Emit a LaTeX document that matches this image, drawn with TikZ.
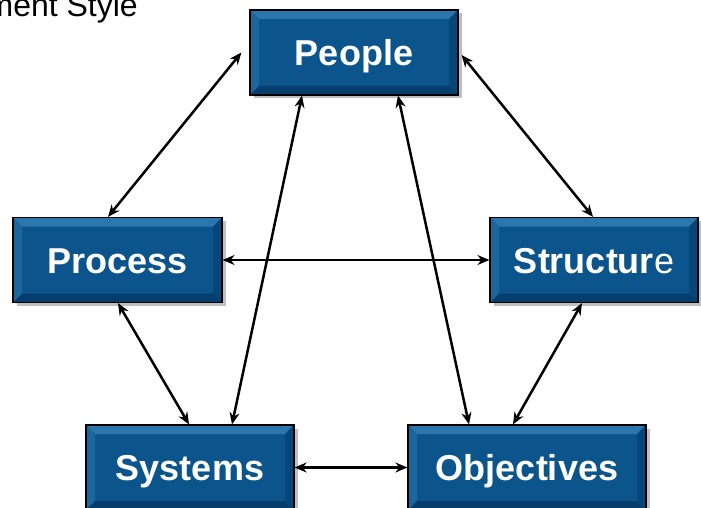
\documentclass[tikz,border=0pt]{standalone}
\usepackage{fontspec}
\setmainfont{Liberation Sans}
\usetikzlibrary{positioning,shadows,arrows.meta}
\tikzstyle{canvas} = [x = 1pt, y = -1pt]
\definecolor{boxBlue}{RGB}{12,84,140}
\definecolor{bevelTop}{RGB}{44,118,174}
\definecolor{bevelLeft}{RGB}{28,102,158}
\definecolor{bevelBottom}{RGB}{5,62,108}
\definecolor{bevelRight}{RGB}{8,70,122}
\newcommand{\bevelWidth}{9pt}
\newcommand{\bevelFaces}{
  \fill [bevelTop] (path picture bounding box.north west) -- (path picture bounding box.north east)
    -- ([xshift=-\bevelWidth, yshift=-\bevelWidth] path picture bounding box.north east)
    -- ([xshift=\bevelWidth, yshift=-\bevelWidth] path picture bounding box.north west) -- cycle;
  \fill [bevelLeft] (path picture bounding box.north west) -- (path picture bounding box.south west)
    -- ([xshift=\bevelWidth, yshift=\bevelWidth] path picture bounding box.south west)
    -- ([xshift=\bevelWidth, yshift=-\bevelWidth] path picture bounding box.north west) -- cycle;
  \fill [bevelBottom] (path picture bounding box.south west) -- (path picture bounding box.south east)
    -- ([xshift=-\bevelWidth, yshift=\bevelWidth] path picture bounding box.south east)
    -- ([xshift=\bevelWidth, yshift=\bevelWidth] path picture bounding box.south west) -- cycle;
  \fill [bevelRight] (path picture bounding box.north east) -- (path picture bounding box.south east)
    -- ([xshift=-\bevelWidth, yshift=\bevelWidth] path picture bounding box.south east)
    -- ([xshift=-\bevelWidth, yshift=-\bevelWidth] path picture bounding box.north east) -- cycle;
}
\tikzstyle{bevelBox} = [draw=black, line width=1.2pt, fill=boxBlue, text=white, inner sep=0pt,
  font=\bfseries\fontsize{36}{40}\selectfont, text height=26pt, text depth=0pt, minimum height=85pt,
  drop shadow={shadow xshift=3.5pt, shadow yshift=-3.5pt, opacity=.5},
  path picture={\bevelFaces}]
\tikzstyle{linkArrow} = [{Stealth[length=12pt, width=10pt]}-{Stealth[length=12pt, width=10pt]}, line width=2.5pt, black]
\begin{document}
\begin{tikzpicture}[canvas]
  \useasboundingbox (0,0) rectangle (701,508);
  \node [anchor=base east, inner sep=0pt, font=\fontsize{32}{34}\selectfont] (styleLabel) at (138,17) {ment Style};

  \node [bevelBox, minimum width=208pt] (people) at (354,52.5) {People};
  \node [bevelBox, minimum width=209pt] (process) at (117.5,260) {Process};
  \node [bevelBox, minimum width=208pt] (structure) at (594,260) {Structur{\mdseries e}};
  \node [bevelBox, minimum width=208pt] (systems) at (190,467.5) {Systems};
  \node [bevelBox, minimum width=238pt] (objectives) at (527,467.5) {Objectives};

  \draw [linkArrow] ([xshift=-9.5pt] process.north) -- ([xshift=-8pt] people.west);
  \draw [linkArrow] ([xshift=3pt, yshift=-2.5pt] people.east) -- ([xshift=-1pt] structure.north);
  \draw [linkArrow] (process.east) -- (structure.west);
  \draw [linkArrow] ([xshift=0.5pt] process.south) -- ([xshift=-1pt] systems.north);
  \draw [linkArrow] ([xshift=-12pt] structure.south) -- ([xshift=-14pt] objectives.north);
  \draw [linkArrow] (systems.east) -- (objectives.west);
  \draw [linkArrow] ([xshift=42pt] systems.north) -- ([xshift=-52pt] people.south);
  \draw [linkArrow] ([xshift=-58pt] objectives.north) -- ([xshift=44pt] people.south);
\end{tikzpicture}
\end{document}
